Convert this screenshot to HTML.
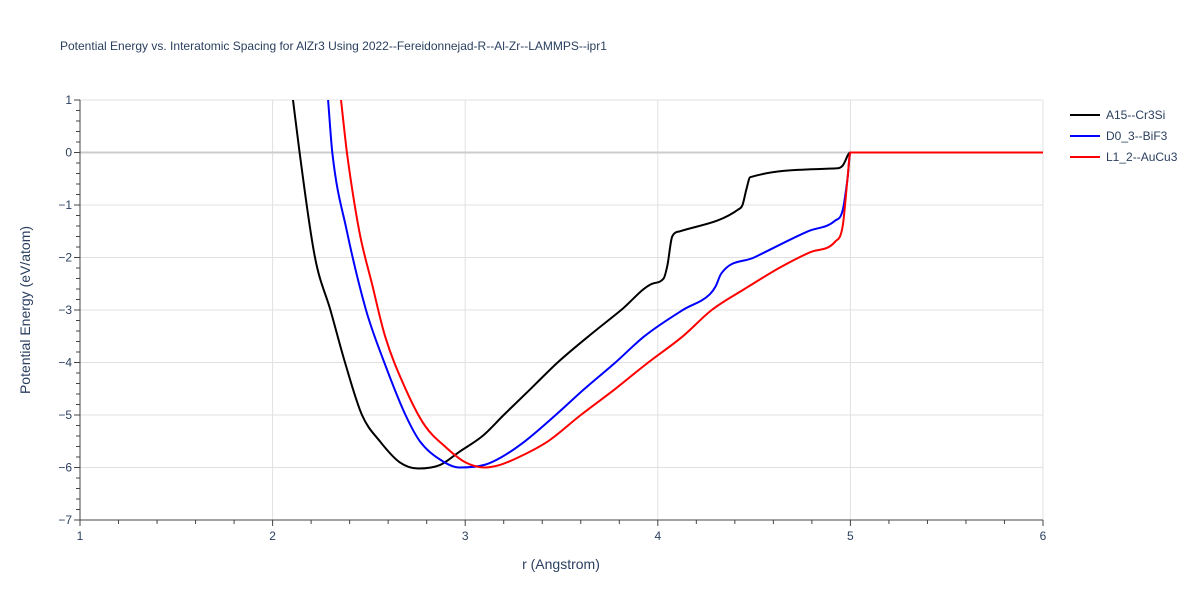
<!DOCTYPE html>
<html><head><meta charset="utf-8"><style>
body{margin:0;background:#fff;font-family:"Liberation Sans",Arial,sans-serif}
</style></head><body>
<svg id="c" width="1200" height="600" font-family="Liberation Sans, Arial, sans-serif"></svg>
<script>
const ns="http://www.w3.org/2000/svg";
const svg=document.getElementById('c');
const xTicks=[1,2,3,4,5,6];
const yTicks=[1,0,-1,-2,-3,-4,-5,-6,-7];
const seriesNames=["A15--Cr3Si","D0_3--BiF3","L1_2--AuCu3"];
const seriesColors=["#000000","#0000ff","#ff0000"];
const a15R=[2.106,2.14,2.22,2.30,2.376,2.464,2.557,2.66,2.755,2.87,2.97,3.09,3.2,3.34,3.48,3.64,3.81,3.97,4.03,4.05,4.075,4.115,4.42,4.44,4.46,4.48,4.935,4.96,5.0,6.0];
const a15E=[1,0,-2,-3,-4,-5,-5.5,-5.9,-6.02,-5.95,-5.7,-5.4,-5.0,-4.5,-4.0,-3.5,-3.0,-2.5,-2.4,-2.15,-1.6,-1.5,-1.08,-1.0,-0.7,-0.47,-0.3,-0.25,0,0];
const d03R=[2.288,2.31,2.386,2.485,2.58,2.69,2.765,2.87,2.97,3.1,3.19,3.31,3.47,3.62,3.78,3.93,4.13,4.27,4.30,4.33,4.5,4.78,4.92,4.96,4.985,5.0,6.0];
const d03E=[1,0,-1.5,-3,-4,-5,-5.5,-5.85,-6.0,-5.95,-5.8,-5.5,-5.0,-4.5,-4.0,-3.5,-3.0,-2.7,-2.55,-2.3,-2.0,-1.5,-1.3,-1.1,-0.5,0,0];
const l12R=[2.355,2.386,2.45,2.516,2.584,2.69,2.79,2.895,3.0,3.1,3.18,3.28,3.43,3.6,3.78,3.95,4.13,4.28,4.45,4.63,4.79,4.92,4.96,4.985,5.0,6.0];
const l12E=[1,0,-1.5,-2.5,-3.5,-4.5,-5.2,-5.6,-5.9,-6.0,-5.95,-5.8,-5.5,-5.0,-4.5,-4.0,-3.5,-3.0,-2.6,-2.2,-1.9,-1.7,-1.4,-0.5,0,0];
const X=r=>80+(r-1)*192.6, Y=e=>152.5-e*52.5;
function el(t,a,txt){const e=document.createElementNS(ns,t);for(const k in a)e.setAttribute(k,a[k]);if(txt!==undefined)e.textContent=txt;svg.appendChild(e);return e;}
function monoPath(xs,ys){
 const n=xs.length,d=[],m=new Array(n);
 for(let i=0;i<n-1;i++)d.push((ys[i+1]-ys[i])/(xs[i+1]-xs[i]));
 m[0]=d[0];m[n-1]=d[n-2];
 for(let i=1;i<n-1;i++){m[i]=(d[i-1]*d[i]<=0)?0:(d[i-1]+d[i])/2;}
 for(let i=0;i<n-1;i++){if(d[i]===0){m[i]=0;m[i+1]=0;continue;}const a=m[i]/d[i],b=m[i+1]/d[i],s=a*a+b*b;if(s>9){const t=3/Math.sqrt(s);m[i]=t*a*d[i];m[i+1]=t*b*d[i];}}
 let p='M'+xs[0].toFixed(1)+' '+ys[0].toFixed(1);
 for(let i=0;i<n-1;i++){const h=(xs[i+1]-xs[i])/3;p+=' C'+(xs[i]+h).toFixed(1)+' '+(ys[i]+m[i]*h).toFixed(1)+' '+(xs[i+1]-h).toFixed(1)+' '+(ys[i+1]-m[i+1]*h).toFixed(1)+' '+xs[i+1].toFixed(1)+' '+ys[i+1].toFixed(1);}
 return p;}
let t=el('text',{x:60,y:50,'font-size':12,fill:'#2a3f5f'},'Potential Energy vs. Interatomic Spacing for AlZr3 Using 2022--Fereidonnejad-R--Al-Zr--LAMMPS--ipr1');

xTicks.forEach(v=>{let g=el('line',{x1:X(v),x2:X(v),y1:100,y2:520,stroke:'#e0e0e0'});
 let l=el('text',{x:X(v),y:540,'font-size':12,fill:'#2a3f5f','text-anchor':'middle'},v);});
yTicks.forEach(v=>{let g=el('line',{x1:80,x2:1043,y1:Y(v),y2:Y(v),stroke:v===0?'#cccccc':'#e0e0e0','stroke-width':v===0?2:1});
 let l=el('text',{x:72,y:Y(v)+4,'font-size':12,fill:'#2a3f5f','text-anchor':'end'},v===0?'0':(v<0?'−'+(-v):v));});
for(let i=0;i<=25;i++){const v=1+i*0.2;let m=el('line',{x1:X(v),x2:X(v),y1:520,y2:i%5?524:526,stroke:'#444'});}
for(let i=0;i<=40;i++){const v=1-i*0.2;let m=el('line',{x1:80,x2:i%5?76:74,y1:Y(v),y2:Y(v),stroke:'#444'});}
let ax=el('line',{x1:80,x2:1043,y1:520,y2:520,stroke:'#444'});
let ay=el('line',{x1:80,x2:80,y1:100,y2:520,stroke:'#444'});
let xt=el('text',{x:561,y:569,'font-size':14,fill:'#2a3f5f','text-anchor':'middle'},'r (Angstrom)');
let yt=el('text',{x:30,y:310,'font-size':14,fill:'#2a3f5f','text-anchor':'middle',transform:'rotate(-90 30 310)'},'Potential Energy (eV/atom)');
const defs=el('defs',{});const cp=document.createElementNS(ns,'clipPath');cp.setAttribute('id','clip');const cr=document.createElementNS(ns,'rect');
[['x',80],['y',100],['width',963],['height',420]].forEach(([k,v])=>cr.setAttribute(k,v));cp.appendChild(cr);defs.appendChild(cp);
[[a15R,a15E],[d03R,d03E],[l12R,l12E]].forEach(([rs,es],i)=>{
 const d=monoPath(rs.map(X),es.map(Y));
 let p=el('path',{d,fill:'none',stroke:seriesColors[i],'stroke-width':2,'clip-path':'url(#clip)','stroke-linejoin':'round'});
 
 const ly=115+i*21;
 let ll=el('line',{x1:1070,x2:1100,y1:ly,y2:ly,stroke:seriesColors[i],'stroke-width':2});
 let lt=el('text',{x:1106,y:ly+4,'font-size':12,fill:'#2a3f5f'},seriesNames[i]);
});
</script>
</body></html>
